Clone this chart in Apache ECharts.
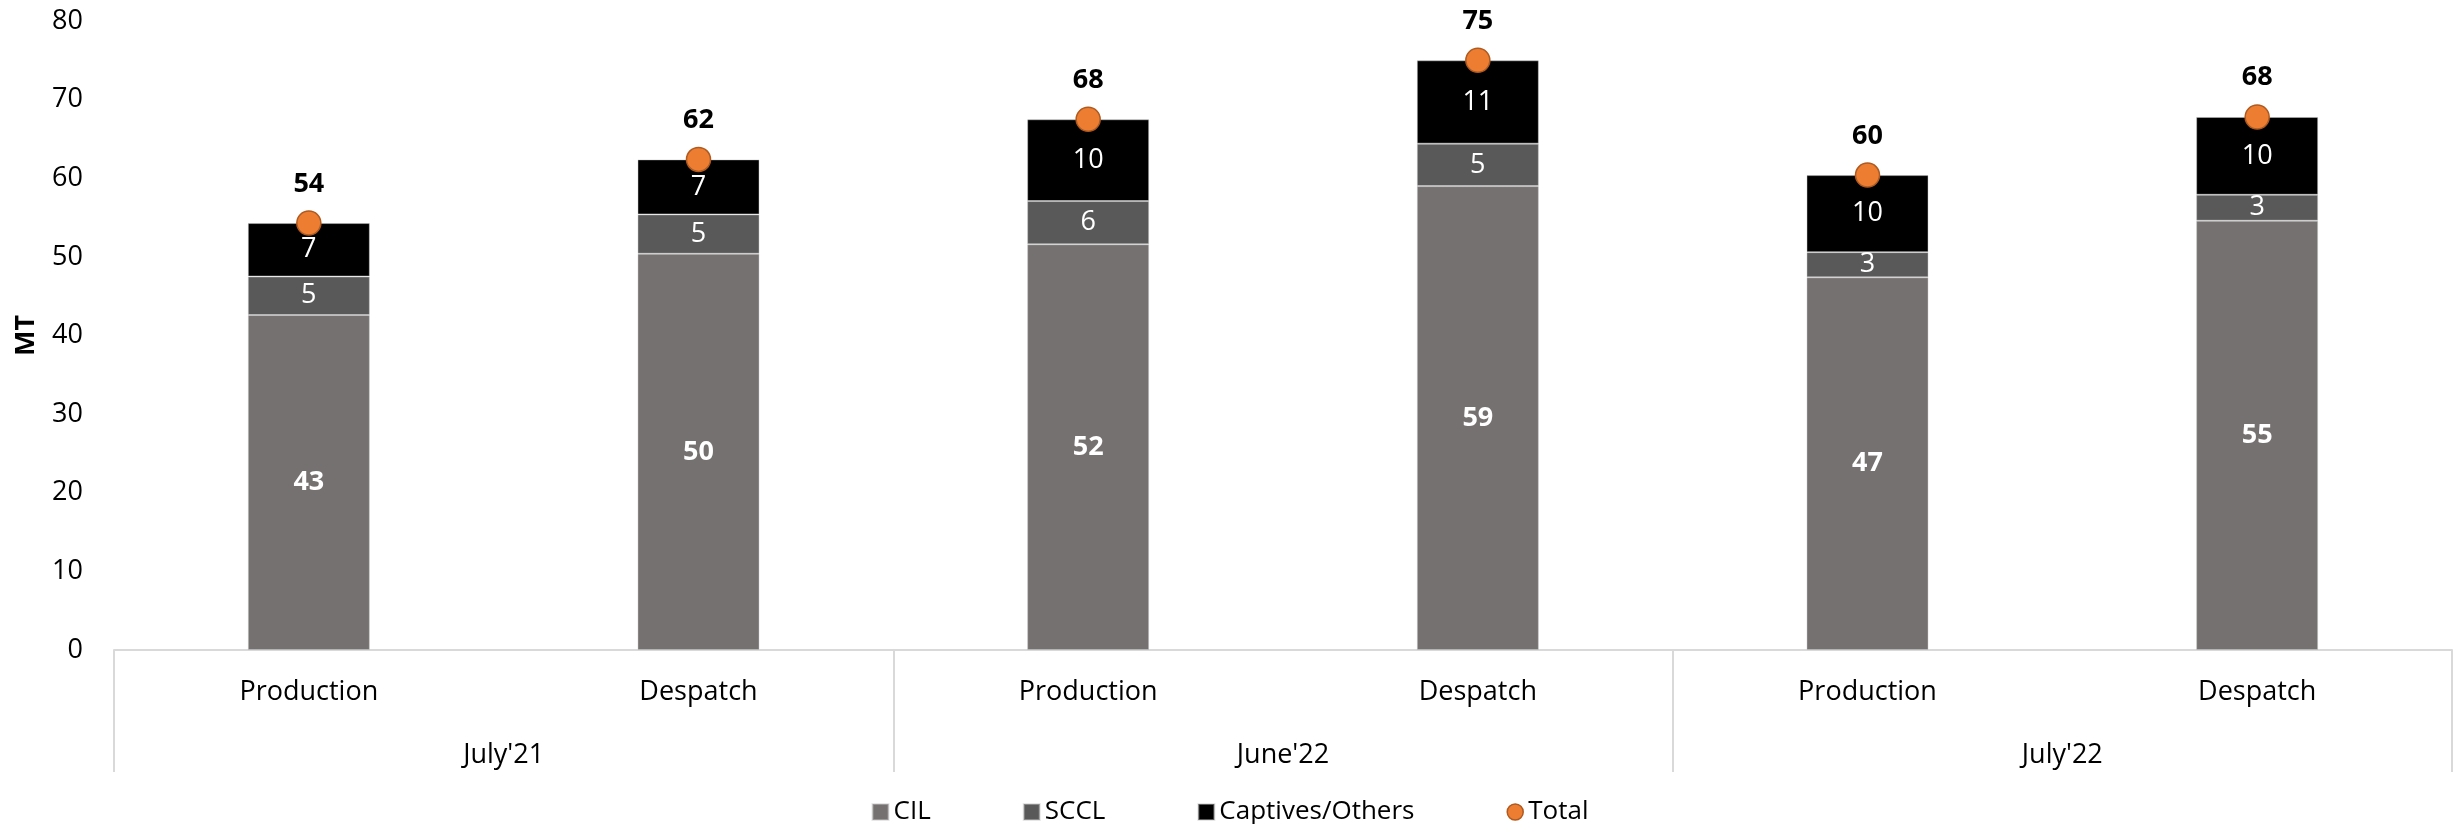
<!DOCTYPE html>
<html>
<head>
<meta charset="utf-8">
<script src="https://cdn.jsdelivr.net/npm/echarts@6/dist/echarts.min.js"></script>
<style>html,body{margin:0;padding:0;background:#fff}#c{width:2460px;height:824px}</style>
</head>
<body>
<div id="c"></div>
<script>
const categories = ['Production', 'Despatch', 'Production', 'Despatch', 'Production', 'Despatch'];
const groups = ["July'21", "June'22", "July'22"];
const cil = [42.6, 50.4, 51.6, 59.0, 47.4, 54.6];
const sccl = [4.9, 5.0, 5.5, 5.4, 3.2, 3.3];
const captives = [6.8, 7.0, 10.4, 10.6, 9.8, 9.9];
const total = [54.3, 62.4, 67.5, 75.0, 60.4, 67.8];
const yTicks = { min: 0, max: 80, interval: 10 };

const FONT = '"Open Sans", "Noto Sans", sans-serif';
const chart = echarts.init(document.getElementById('c'), null, { renderer: 'canvas' });
const round = p => Math.round(p.value);
const barLabel = (bold) => ({
  show: true, position: 'inside', color: '#fff', fontFamily: FONT, fontSize: 27,
  fontWeight: bold ? 'bold' : 'normal', formatter: round
});
const barItem = (c) => ({ color: c, borderColor: 'rgba(200,200,200,0.45)', borderWidth: 1 });

chart.setOption({
  animation: false,
  textStyle: { fontFamily: FONT },
  grid: { left: 114, right: 8, top: 21, bottom: 174, containLabel: false, outerBoundsMode: 'none' },
  legend: {
    top: 794, left: 'center', itemGap: 92, itemWidth: 16, itemHeight: 16,
    textStyle: { fontFamily: FONT, fontSize: 26, color: '#000' },
    data: [
      { name: 'CIL', icon: 'rect' },
      { name: 'SCCL', icon: 'rect' },
      { name: 'Captives/Others', icon: 'rect' },
      { name: 'Total', icon: 'circle', itemStyle: { color: '#ED7D31', borderColor: '#AE5A21', borderWidth: 1.5 } }
    ]
  },
  xAxis: [
    {
      type: 'category', data: categories, position: 'bottom',
      axisLine: { show: true, lineStyle: { color: '#d9d9d9', width: 2 } },
      axisTick: { show: false },
      axisLabel: { color: '#000', fontFamily: FONT, fontSize: 27, margin: 29, interval: 0 }
    },
    {
      type: 'category', data: groups, position: 'bottom',
      axisLine: { show: false },
      axisTick: { show: true, length: 122, lineStyle: { color: '#d9d9d9', width: 2 } },
      axisLabel: { color: '#000', fontFamily: FONT, fontSize: 27, margin: 92, interval: 0 }
    }
  ],
  yAxis: {
    type: 'value', min: yTicks.min, max: yTicks.max, interval: yTicks.interval,
    name: 'MT', nameLocation: 'middle', nameGap: 74,
    nameTextStyle: { color: '#000', fontWeight: 'bold', fontSize: 27, fontFamily: FONT },
    axisLine: { show: false }, axisTick: { show: false }, splitLine: { show: false },
    axisLabel: { color: '#000', fontFamily: FONT, fontSize: 27, margin: 31 }
  },
  series: [
    { name: 'CIL', type: 'bar', stack: 's', barWidth: 122, data: cil, itemStyle: barItem('#767171'), label: barLabel(true) },
    { name: 'SCCL', type: 'bar', stack: 's', barWidth: 122, data: sccl, itemStyle: barItem('#595959'), label: barLabel(false) },
    { name: 'Captives/Others', type: 'bar', stack: 's', barWidth: 122, data: captives, itemStyle: barItem('#000000'), label: barLabel(false) },
    {
      name: 'Total', type: 'scatter', data: total, symbol: 'circle', symbolSize: 24, z: 5,
      itemStyle: { color: '#ED7D31', borderColor: '#AE5A21', borderWidth: 1.5, opacity: 1 },
      label: { show: true, position: 'top', distance: 13, color: '#000', fontWeight: 'bold', fontSize: 27, fontFamily: FONT, formatter: round }
    }
  ]
});
</script>
</body>
</html>
